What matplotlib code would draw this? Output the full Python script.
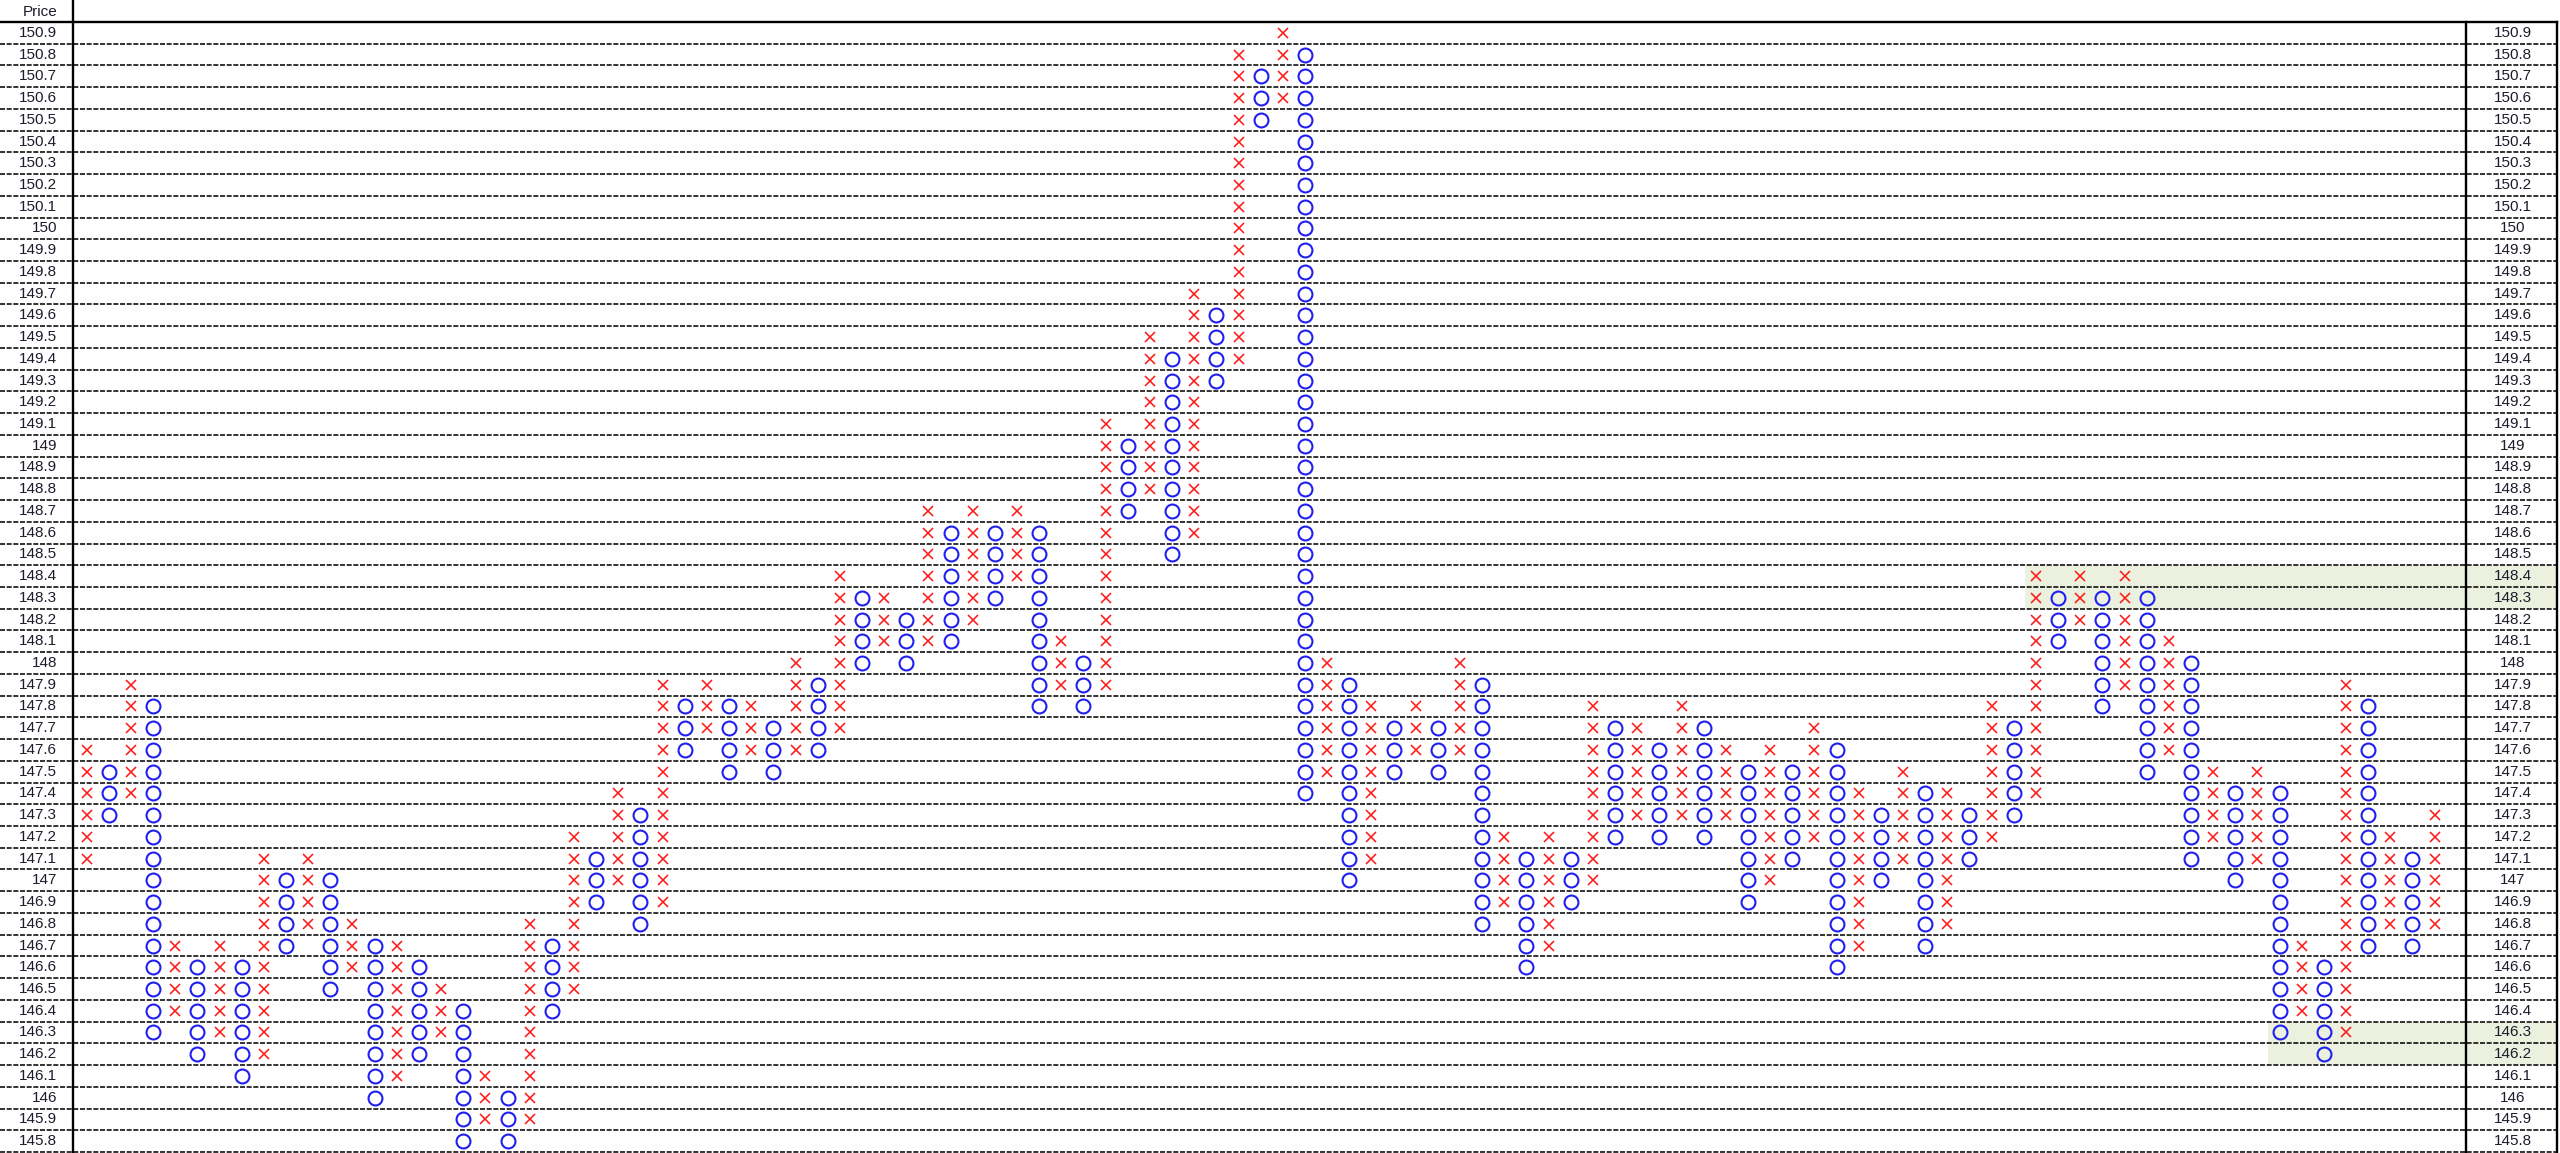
import matplotlib.pyplot as plt
from matplotlib.transforms import blended_transform_factory

# price rows shown on both sides, top to bottom
price_levels = [round(150.9 - 0.1 * i, 1) for i in range(52)]

# point & figure columns, alternating X / O starting with X
first_col = "X"
col_high = [147.6, 147.5, 147.9, 147.8, 146.7, 146.6, 146.7, 146.6, 147.1, 147.0,
            147.1, 147.0, 146.8, 146.7, 146.7, 146.6, 146.5, 146.4, 146.1, 146.0,
            146.8, 146.7, 147.2, 147.1, 147.4, 147.3, 147.9, 147.8, 147.9, 147.8,
            147.8, 147.7, 148.0, 147.9, 148.4, 148.3, 148.3, 148.2, 148.7, 148.6,
            148.7, 148.6, 148.7, 148.6, 148.1, 148.0, 149.1, 149.0, 149.5, 149.4,
            149.7, 149.6, 150.8, 150.7, 150.9, 150.8, 148.0, 147.9, 147.8, 147.7,
            147.8, 147.7, 148.0, 147.9, 147.2, 147.1, 147.2, 147.1, 147.8, 147.7,
            147.7, 147.6, 147.8, 147.7, 147.6, 147.5, 147.6, 147.5, 147.7, 147.6,
            147.4, 147.3, 147.5, 147.4, 147.4, 147.3, 147.8, 147.7, 148.4, 148.3,
            148.4, 148.3, 148.4, 148.3, 148.1, 148.0, 147.5, 147.4, 147.5, 147.4,
            146.7, 146.6, 147.9, 147.8, 147.2, 147.1, 147.3]
col_low = [147.1, 147.3, 147.4, 146.3, 146.4, 146.2, 146.3, 146.1, 146.2, 146.7,
           146.8, 146.5, 146.6, 146.0, 146.1, 146.2, 146.3, 145.8, 145.9, 145.8,
           145.9, 146.4, 146.5, 146.9, 147.0, 146.8, 146.9, 147.6, 147.7, 147.5,
           147.6, 147.5, 147.6, 147.6, 147.7, 148.0, 148.1, 148.0, 148.1, 148.1,
           148.2, 148.3, 148.4, 147.8, 147.9, 147.8, 147.9, 148.7, 148.8, 148.5,
           148.6, 149.3, 149.4, 150.5, 150.6, 147.4, 147.5, 147.0, 147.1, 147.5,
           147.6, 147.5, 147.6, 146.8, 146.9, 146.6, 146.7, 146.9, 147.0, 147.2,
           147.3, 147.2, 147.3, 147.2, 147.3, 146.9, 147.0, 147.1, 147.2, 146.6,
           146.7, 147.0, 147.1, 146.7, 146.8, 147.1, 147.2, 147.3, 147.4, 148.1,
           148.2, 147.8, 147.9, 147.5, 147.6, 147.1, 147.2, 147.0, 147.1, 146.3,
           146.4, 146.2, 146.3, 146.7, 146.8, 146.7, 146.8]

# shaded bands: (top price, bottom price, first column index)
band_tops = [148.4, 146.3]
band_bottoms = [148.3, 146.2]
band_start_cols = [88, 99]

W, H = 2560, 1153
col0_px, col_w = 86.7, 22.15
row_top_px, row_h = 22, 21.73

fig = plt.figure(figsize=(W / 100, H / 100), dpi=100)
ax = fig.add_axes([0, 0, 1, 1])
ax.axis("off")
ax.set_xlim(-col0_px / col_w, (W - col0_px) / col_w)
c_top = row_top_px + row_h / 2
ax.set_ylim(150.9 - (H - c_top) / (row_h * 10), 150.9 + c_top / (row_h * 10))

right_edge = 2557 / W
xmax_data = ax.get_xlim()[0] + right_edge * (ax.get_xlim()[1] - ax.get_xlim()[0])

# shaded bands
for top, bot, c in zip(band_tops, band_bottoms, band_start_cols):
    ax.fill_between([c - 0.5, xmax_data], bot - 0.05, top + 0.05,
                    color="#ebf1de", lw=0, zorder=0)

# grid rows
for p in price_levels:
    ax.axhline(p - 0.05, xmin=0, xmax=right_edge, color="#111111",
               lw=1.2, ls=(0, (3, 1)), zorder=1)
ax.axhline(150.95, xmin=0, xmax=right_edge, color="black", lw=1.7, zorder=2)

# vertical separators
top_frac = 1 - row_top_px / H
ax.plot([73 / W] * 2, [0, 1], transform=ax.transAxes, color="black", lw=1.7, zorder=2)
ax.plot([2466 / W] * 2, [0, top_frac], transform=ax.transAxes, color="black", lw=1.7, zorder=2)
ax.plot([right_edge] * 2, [0, top_frac], transform=ax.transAxes, color="black", lw=1.7, zorder=2)

# price labels
tr = blended_transform_factory(ax.transAxes, ax.transData)
for p in price_levels:
    lab = f"{p:g}"
    ax.text(57 / W, p, lab, transform=tr, ha="right", va="center",
            fontsize=11, family="Liberation Sans", color="#1c1c2c")
    ax.text(2513 / W, p, lab, transform=tr, ha="center", va="center",
            fontsize=11, family="Liberation Sans", color="#1c1c2c")
ax.text(57 / W, 1 - 12 / H, "Price", transform=ax.transAxes, ha="right",
        va="center", fontsize=11, family="Liberation Sans", color="#1c1c2c")

# X and O boxes
xs_x, ys_x, xs_o, ys_o = [], [], [], []
for j, (hi, lo) in enumerate(zip(col_high, col_low)):
    n = int(round((hi - lo) * 10)) + 1
    boxes = [round(lo + 0.1 * k, 1) for k in range(n)]
    is_x = (j % 2 == 0) == (first_col == "X")
    if is_x:
        xs_x += [j] * n
        ys_x += boxes
    else:
        xs_o += [j] * n
        ys_o += boxes

ax.plot(xs_x, ys_x, ls="none", marker="x", ms=6.8, mew=1.15,
        color="#ff1a1a", zorder=3)
ax.plot(xs_o, ys_o, ls="none", marker="o", ms=10, mew=1.5,
        mfc="none", mec="#1f1ff0", zorder=3)

fig.savefig("out.png", dpi=100)
